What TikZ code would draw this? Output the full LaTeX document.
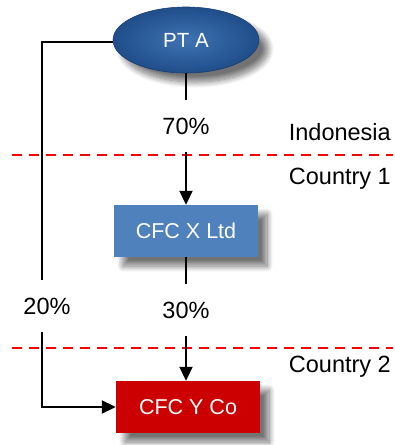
\documentclass[tikz,border=0pt]{standalone}
\usepackage{fontspec}
\setmainfont{Liberation Sans}
\usetikzlibrary{arrows.meta,shapes.geometric,shadows.blur,calc}
\definecolor{ellblue}{HTML}{1F4E8A}
\definecolor{ellin}{HTML}{3F73B3}
\definecolor{boxblue}{HTML}{4F81BD}
\definecolor{boxred}{HTML}{CC0000}
\tikzset{
  conn/.style={line width=2pt,black},
  arr/.style={conn,-{Triangle[width=13pt,length=14pt]}},
  shad/.style={blur shadow={shadow xshift=9pt,shadow yshift=-9pt,shadow blur steps=12,shadow blur radius=6pt,shadow opacity=55}},
  entity/.style={rectangle,minimum width=144pt,minimum height=52pt,text=white,font=\fontsize{21.5}{24}\selectfont,shad},
  pct/.style={font=\fontsize{23.5}{26}\selectfont,inner sep=0pt},
  country/.style={font=\fontsize{23.5}{26}\selectfont,anchor=east,inner sep=0pt},
  border/.style={red,line width=2pt,dash pattern=on 10pt off 7pt}
}
\begin{document}
\begin{tikzpicture}[x=1pt,y=-1pt]
\useasboundingbox (0,0) rectangle (395,445);
\node[ellipse,minimum width=146pt,minimum height=66pt,inner color=ellin,outer color=ellblue,draw=ellblue!80!black,line width=0.6pt,text=white,font=\fontsize{20.5}{23}\selectfont,shad] (ptA) at (186,40) {PT A};
\node[entity,fill=boxblue] (cfcx) at (186,231) {CFC X Ltd};
\node[entity,fill=boxred] (cfcy) at (188,407) {CFC Y Co};
\node[pct,minimum height=52pt] (p70) at (186,126) {70\%};
\node[pct,minimum height=51pt] (p30) at (186,310) {30\%};
\node[pct,minimum height=52pt,xshift=5pt] (p20) at (42,306) {20\%};
\node[country] (indo) at (391,132) {Indonesia};
\node[country] (c1) at (391,179) {Country 1};
\node[country] (c2) at (391,367) {Country 2};
\draw[border] (12,155) -- (393,155);
\draw[border] (12,348) -- (393,348);
\coordinate (tl) at (42,42);
\coordinate (bl) at (42,407);
\draw[conn] (ptA.south) -- (p70.north);
\draw[arr] (p70.south) -- (cfcx.north);
\draw[conn] (cfcx.south) -- (p30.north);
\draw[arr] (p30.south) -- (cfcy.north-|p30.south);
\draw[conn] (ptA.west|-tl) -- (tl) -- (tl|-p20.north);
\draw[arr] (tl|-p20.south) -- (bl) -- (cfcy.west|-bl);
\end{tikzpicture}
\end{document}
